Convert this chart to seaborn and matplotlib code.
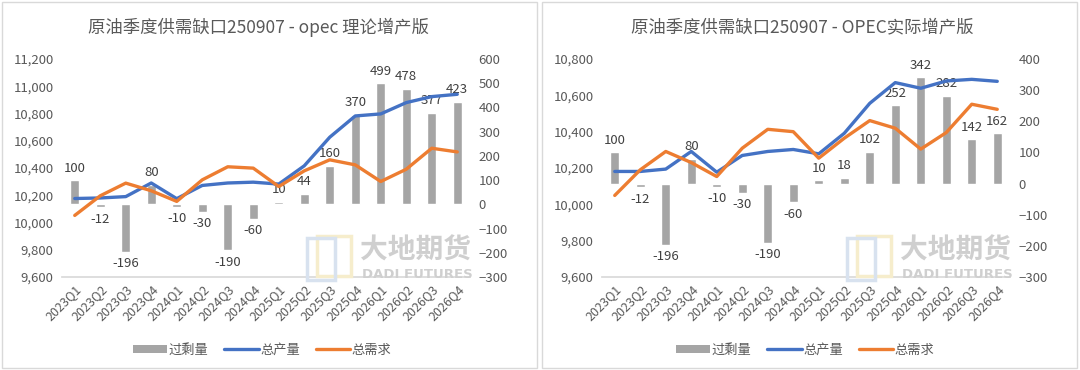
import numpy as np
import pandas as pd
import seaborn as sns
import matplotlib
matplotlib.use("Agg")
from matplotlib import pyplot as plt
from matplotlib.patches import Rectangle, Patch
from matplotlib.lines import Line2D
from matplotlib.ticker import StrMethodFormatter, MultipleLocator

quarters = ['2023Q1', '2023Q2', '2023Q3', '2023Q4', '2024Q1', '2024Q2', '2024Q3', '2024Q4',
            '2025Q1', '2025Q2', '2025Q3', '2025Q4', '2026Q1', '2026Q2', '2026Q3', '2026Q4']

# opec 理论增产版
surplus_theory = [100, -12, -196, 80, -10, -30, -190, -60, 10, 44, 160, 370, 499, 478, 377, 423]
supply_theory = [10176, 10180, 10190, 10290, 10175, 10272, 10290, 10296,
                 10282, 10416, 10626, 10782, 10797, 10880, 10924, 10941]
demand_theory = [10052, 10196, 10289, 10233, 10155, 10313, 10409, 10399,
                 10264, 10379, 10460, 10423, 10301, 10391, 10545, 10518]

# OPEC实际增产版
surplus_actual = [100, -12, -196, 80, -10, -30, -190, -60, 10, 18, 102, 252, 342, 282, 142, 162]
supply_actual = [10181, 10181, 10194, 10291, 10177, 10269, 10291, 10302,
                 10278, 10391, 10556, 10670, 10639, 10679, 10688, 10677]
demand_actual = [10049, 10190, 10291, 10230, 10153, 10309, 10413, 10400,
                 10254, 10364, 10461, 10419, 10304, 10395, 10551, 10523]

sns.set_theme(style="white")
plt.rcParams['font.family'] = ['Noto Sans CJK SC', 'DejaVu Sans']

GRAY_TXT = '#595959'
BAR_C = '#A5A5A5'
BLUE = '#4472C4'
ORANGE = '#ED7D31'

fig = plt.figure(figsize=(10.8, 3.7), dpi=100)

W, H = 1080, 370


def fx(px):
    return px / W


def fy(py):
    return 1 - py / H


def draw_panel(x0, title, surplus, supply, demand, lrange, rrange, title_cx, legend_cx):
    # panel frame
    fig.patches.append(Rectangle((fx(x0 + 2), fy(368)), fx(535), 366 / H, transform=fig.transFigure,
                                 fill=False, edgecolor='#D9D9D9', linewidth=1.0))
    ax1 = fig.add_axes([fx(x0 + 62), fy(277), fx(408), 218 / H])
    ax2 = ax1.twinx()
    ax2.set_zorder(ax1.get_zorder() - 1)
    ax1.patch.set_visible(False)

    df = pd.DataFrame({'idx': np.arange(len(quarters)), 'quarter': quarters,
                       'surplus': surplus, 'supply': supply, 'demand': demand})

    sns.barplot(data=df, x='idx', y='surplus', color=BAR_C, width=0.35, ax=ax2,
                saturation=1, native_scale=True)
    ax2.bar_label(ax2.containers[0], labels=[str(v) for v in surplus], padding=4,
                  fontsize=9.5, color='#404040')
    sns.lineplot(data=df, x='idx', y='supply', color=BLUE, linewidth=2.4, ax=ax1)
    sns.lineplot(data=df, x='idx', y='demand', color=ORANGE, linewidth=2.4, ax=ax1)

    ax1.set_xlim(-0.5, len(quarters) - 0.5)
    ax1.set_ylim(*lrange)
    ax2.set_ylim(*rrange)
    ax1.yaxis.set_major_locator(MultipleLocator(200))
    ax2.yaxis.set_major_locator(MultipleLocator(100))
    ax1.yaxis.set_major_formatter(StrMethodFormatter('{x:,.0f}'))
    ax1.set_xticks(df['idx'])
    ax1.set_xticklabels(quarters, rotation=45, ha='right', rotation_mode='anchor')
    for a in (ax1, ax2):
        a.set_xlabel('')
        a.set_ylabel('')
        a.tick_params(length=0, labelsize=9.5, labelcolor=GRAY_TXT, pad=6)
        for s in a.spines.values():
            s.set_visible(False)
    ax1.tick_params(axis='x', labelsize=9, pad=4)
    ax1.spines['bottom'].set_visible(True)
    ax1.spines['bottom'].set_color('#D9D9D9')
    ax1.grid(False)
    ax2.grid(False)

    fig.text(fx(x0 + title_cx), fy(27), title, ha='center', va='center', fontsize=12.5, color=GRAY_TXT)

    handles = [Patch(facecolor=BAR_C, edgecolor='none'),
               Line2D([], [], color=BLUE, linewidth=2.4),
               Line2D([], [], color=ORANGE, linewidth=2.4)]
    fig.legend(handles, ['过剩量', '总产量', '总需求'], loc='center',
               bbox_to_anchor=(fx(x0 + legend_cx), fy(350)), ncol=3, frameon=False,
               fontsize=9.5, labelcolor=GRAY_TXT, handlelength=2.6, handleheight=0.5,
               handletextpad=0.1, columnspacing=1.2)

    # watermark
    lx = x0 + 307
    fig.patches.append(Rectangle((fx(lx + 10), fy(276)), fx(34), 40 / H, transform=fig.transFigure,
                                 fill=False, edgecolor='#F6EDCC', linewidth=2.5))
    fig.patches.append(Rectangle((fx(lx), fy(280)), fx(28), 42 / H, transform=fig.transFigure,
                                 fill=False, edgecolor='#D8E2EF', linewidth=2.5))
    fig.text(fx(x0 + 360), fy(251), '大地期货', ha='left', va='center', fontsize=20,
             fontweight='bold', color='#CFCFCF')
    fig.text(fx(x0 + 362), fy(274), 'DADI FUTURES', ha='left', va='center', fontsize=9.5,
             fontweight='bold', color='#CFCFCF', family=['DejaVu Sans'])
    return ax1, ax2


draw_panel(0, '原油季度供需缺口250907 - opec 理论增产版', surplus_theory, supply_theory, demand_theory,
           (9600, 11200), (-300, 600), 259, 262)
draw_panel(540, '原油季度供需缺口250907 - OPEC实际增产版', surplus_actual, supply_actual, demand_actual,
           (9600, 10800), (-300, 400), 262, 265)

fig.savefig('out.png', dpi=100)
